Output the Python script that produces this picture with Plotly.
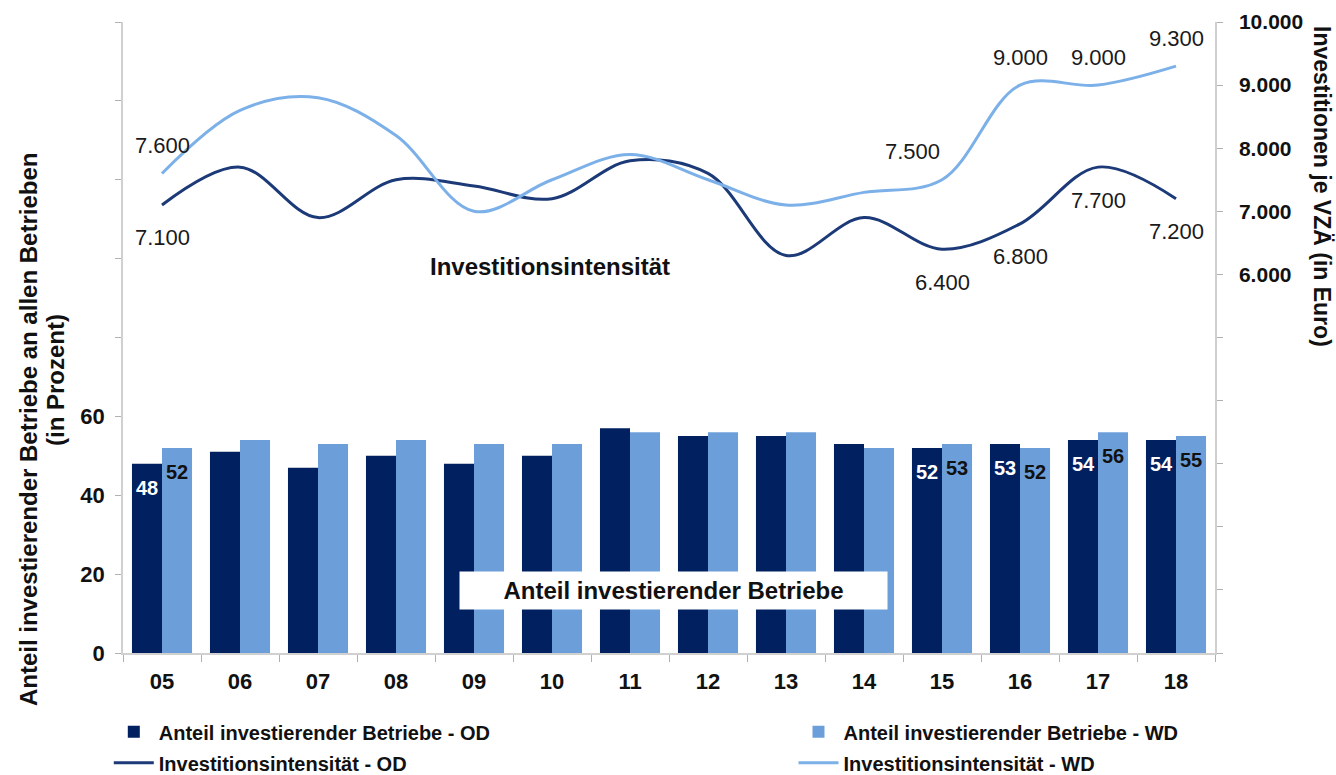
import plotly.graph_objects as go

# data
YEARS = ["05", "06", "07", "08", "09", "10", "11", "12", "13", "14", "15", "16", "17", "18"]
ANTEIL_OD = [48, 51, 47, 50, 48, 50, 57, 55, 55, 53, 52, 53, 54, 54]
ANTEIL_WD = [52, 54, 53, 54, 53, 53, 56, 56, 56, 52, 53, 52, 56, 55]
INTENS_OD = [7100, 7700, 6900, 7500, 7400, 7200, 7800, 7600, 6300, 6900, 6400, 6800, 7700, 7200]
INTENS_WD = [7600, 8600, 8800, 8200, 7000, 7500, 7900, 7500, 7100, 7300, 7500, 9000, 9000, 9300]
LABEL_YEARS = ["05", "15", "16", "17", "18"]

LEFT_TICKS = [0, 20, 40, 60, 80, 100, 120, 140, 160]
LEFT_TICKTEXT = ["0", "20", "40", "60", "", "", "", "", ""]
RIGHT_TICKS = [0, 1000, 2000, 3000, 4000, 5000, 6000, 7000, 8000, 9000, 10000]
RIGHT_TICKTEXT = ["", "", "", "", "", "", "6.000", "7.000", "8.000", "9.000", "10.000"]

NAVY = "#002060"
LIGHT = "#6c9fda"
LINE_OD = "#1c3a78"
LINE_WD = "#7cb0e8"
AXIS = "#d0d0d0"
FONT = "Liberation Sans, Arial, sans-serif"


def de(v):
    return f"{v:,}".replace(",", ".")


fig = go.Figure()
fig.add_trace(go.Bar(x=YEARS, y=ANTEIL_OD, name="Anteil investierender Betriebe - OD",
                     marker=dict(color=NAVY, line=dict(width=0)),
                     legend="legend", legendgroup="a"))
fig.add_trace(go.Bar(x=YEARS, y=ANTEIL_WD, name="Anteil investierender Betriebe - WD",
                     marker=dict(color=LIGHT, line=dict(width=0)),
                     legend="legend2", legendgroup="b"))
fig.add_trace(go.Scatter(x=YEARS, y=INTENS_OD, yaxis="y2", mode="lines",
                         name="Investitionsintensität - OD",
                         line=dict(color=LINE_OD, width=3, shape="spline", smoothing=1),
                         legend="legend", legendgroup="c"))
fig.add_trace(go.Scatter(x=YEARS, y=INTENS_WD, yaxis="y2", mode="lines",
                         name="Investitionsintensität - WD",
                         line=dict(color=LINE_WD, width=3, shape="spline", smoothing=1),
                         legend="legend2", legendgroup="d"))

annotations = []
# bar value labels (x given as category index)
for yr in LABEL_YEARS:
    i = YEARS.index(yr)
    annotations.append(dict(x=i, y=ANTEIL_OD[i], xref="x", yref="y", text=str(ANTEIL_OD[i]),
                            showarrow=False, xshift=-15, yshift=-24,
                            xanchor="center", yanchor="middle",
                            font=dict(family=FONT, size=20, color="white", weight="bold")))
    annotations.append(dict(x=i, y=ANTEIL_WD[i], xref="x", yref="y", text=str(ANTEIL_WD[i]),
                            showarrow=False, xshift=15, yshift=-24,
                            xanchor="center", yanchor="middle",
                            font=dict(family=FONT, size=20, color="#111111", weight="bold")))
# line value labels
for yr in LABEL_YEARS:
    i = YEARS.index(yr)
    annotations.append(dict(x=i, y=INTENS_OD[i], xref="x", yref="y2", text=de(INTENS_OD[i]),
                            showarrow=False, yshift=-33, xanchor="center", yanchor="middle",
                            font=dict(family=FONT, size=22, color="#1a1a1a")))
    annotations.append(dict(x=i, y=INTENS_WD[i], xref="x", yref="y2", text=de(INTENS_WD[i]),
                            showarrow=False, yshift=28, xshift=-30 if yr == "15" else 0,
                            xanchor="center", yanchor="middle",
                            font=dict(family=FONT, size=22, color="#1a1a1a")))

annotations += [
    dict(x=0.391, y=0.613, xref="paper", yref="paper", text="Investitionsintensität",
         showarrow=False, xanchor="center", yanchor="middle",
         font=dict(family=FONT, size=24, color="#111111", weight="bold")),
    dict(x=0.5037, y=0.0998, xref="paper", yref="paper", text="Anteil investierender Betriebe",
         showarrow=False, bgcolor="white", width=425, height=35,
         xanchor="center", yanchor="middle",
         font=dict(family=FONT, size=24, color="#111111", weight="bold")),
    dict(x=-0.086, y=0.355, xref="paper", yref="paper", textangle=-90,
         text="Anteil investierender Betriebe an allen Betrieben", showarrow=False,
         xanchor="center", yanchor="middle",
         font=dict(family=FONT, size=24, color="#111111", weight="bold")),
    dict(x=-0.0623, y=0.4326, xref="paper", yref="paper", textangle=-90,
         text="(in Prozent)", showarrow=False, xanchor="center", yanchor="middle",
         font=dict(family=FONT, size=24, color="#111111", weight="bold")),
    dict(x=1.098, y=0.74, xref="paper", yref="paper", textangle=90,
         text="Investitionen je VZÄ (in Euro)", showarrow=False,
         xanchor="center", yanchor="middle",
         font=dict(family=FONT, size=23, color="#111111", weight="bold")),
]

legend_style = dict(orientation="v", yanchor="top", xanchor="left", y=-0.094,
                    font=dict(family=FONT, size=20, color="#111111", weight="bold"),
                    bgcolor="rgba(0,0,0,0)", itemwidth=40, tracegroupgap=2)

fig.update_layout(
    width=1336, height=775,
    margin=dict(l=123, r=121, t=22, b=122, autoexpand=False),
    paper_bgcolor="white", plot_bgcolor="white",
    barmode="group", bargap=0.23, bargroupgap=0,
    font=dict(family=FONT, color="#111111"),
    xaxis=dict(type="category", categoryorder="array", categoryarray=YEARS,
               range=[-0.5, len(YEARS) - 0.5],
               showline=True, linecolor=AXIS, linewidth=1.5,
               ticks="outside", tickson="boundaries", ticklen=7, tickcolor="#b0b0b0",
               tickfont=dict(family=FONT, size=22, color="#111111", weight="bold"),
               ticklabelstandoff=8, showgrid=False, zeroline=False),
    yaxis=dict(range=[0, 160], tickvals=LEFT_TICKS, ticktext=LEFT_TICKTEXT,
               showline=True, linecolor=AXIS, linewidth=1.5,
               ticks="outside", ticklen=6, tickcolor="#b0b0b0",
               tickfont=dict(family=FONT, size=22, color="#111111", weight="bold"),
               ticklabelstandoff=6, showgrid=False, zeroline=False),
    yaxis2=dict(range=[0, 10000], overlaying="y", side="right",
                tickvals=RIGHT_TICKS, ticktext=RIGHT_TICKTEXT,
                showline=True, linecolor=AXIS, linewidth=1.5,
                ticks="outside", ticklen=6, tickcolor="#b0b0b0",
                tickfont=dict(family=FONT, size=21, color="#111111", weight="bold"),
                ticklabelstandoff=12, showgrid=False, zeroline=False),
    legend=dict(x=-0.013, **legend_style),
    legend2=dict(x=0.614, **legend_style),
    annotations=annotations,
)

# drop the default page margin so the figure sits at the window's corner
fig.write_html("out.html", config={"displayModeBar": False},
               post_script="document.body.style.margin='0';")
